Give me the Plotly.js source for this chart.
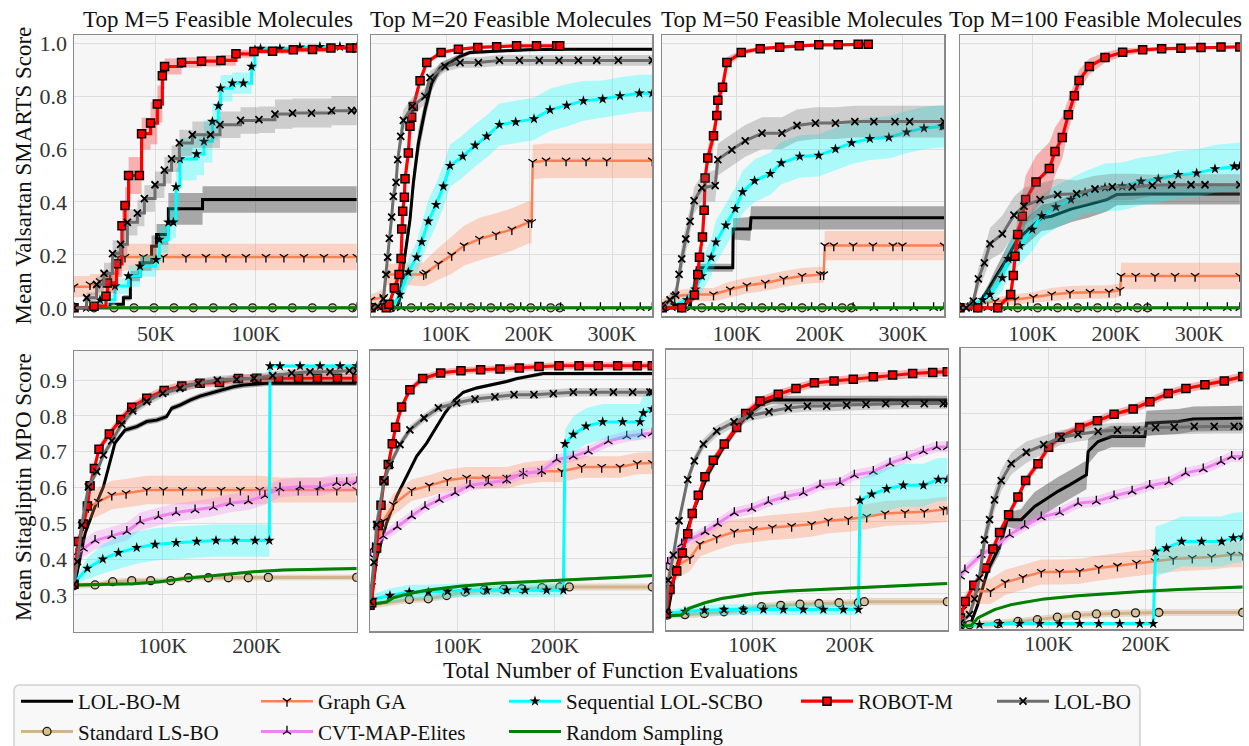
<!DOCTYPE html>
<html><head><meta charset="utf-8">
<script src="https://cdn.plot.ly/plotly-3.0.1.min.js"></script>
<style>html,body{margin:0;padding:0;background:#fff}</style>
</head><body><div id="chart" style="width:1249px;height:746px"></div>
<script>
// ---------------- DATA (x in thousands of evaluations, y = mean score, e = band half-width) ----------------
// Top row: Valsartan SMARTS, M=5
var T1_LBM_x = [9, 27, 33.7, 37.2, 42, 47.8, 50.3, 56.2, 73.3, 150.5];
var T1_LBM_y = [0, 0.013, 0.038, 0.12, 0.17, 0.233, 0.277, 0.374, 0.409, 0.409];
var T1_LBM_e = [0, 0.005, 0.01, 0.02, 0.03, 0.04, 0.04, 0.06, 0.05, 0.05];
var T1_SLS_x = [9, 19, 29, 39, 49, 59, 68.7, 78.7, 88.7, 98.3, 108.3, 118.2, 128.2, 138.3, 148.3];
var T1_SLS_y = [0, 0, 0, 0, 0, 0, 0, 0, 0, 0, 0, 0, 0, 0, 0];
var T1_SLS_e = 0;
var T1_GGA_x = [9, 17, 22, 27, 31, 34.5, 43.7, 53.7, 65, 75, 85, 95, 105, 114, 124, 134, 144, 150.5];
var T1_GGA_y = [0.08, 0.088, 0.1, 0.13, 0.19, 0.192, 0.192, 0.192, 0.192, 0.192, 0.192, 0.192, 0.192, 0.192, 0.192, 0.192, 0.192, 0.192];
var T1_GGA_e = [0.04, 0.04, 0.04, 0.045, 0.05, 0.05, 0.05, 0.05, 0.05, 0.05, 0.05, 0.05, 0.05, 0.05, 0.05, 0.05, 0.05, 0.05];
var T1_CVT_x = [9, 150.5];
var T1_CVT_y = [0, 0];
var T1_CVT_e = 0;
var T1_SEQ_x = [9, 15, 22, 29.5, 36.2, 42, 50, 51.7, 56.2, 58.7, 60, 62, 70.3, 74, 78.2, 81.2, 82.3, 88.2, 93.7, 97.8, 99.5, 102.3, 112, 122, 132, 142, 150.5];
var T1_SEQ_y = [0, 0, 0.03, 0.082, 0.12, 0.157, 0.182, 0.258, 0.323, 0.323, 0.457, 0.562, 0.581, 0.629, 0.704, 0.763, 0.83, 0.849, 0.849, 0.912, 0.975, 0.98, 0.98, 0.985, 0.987, 0.987, 0.987];
var T1_SEQ_e = [0, 0.005, 0.02, 0.03, 0.04, 0.04, 0.04, 0.05, 0.06, 0.06, 0.07, 0.08, 0.08, 0.08, 0.07, 0.06, 0.05, 0.04, 0.04, 0.03, 0.01, 0.008, 0.008, 0.006, 0.005, 0.005, 0.005];
var T1_RND_x = [9, 150.5];
var T1_RND_y = [0, 0];
var T1_RND_e = 0;
var T1_ROB_x = [9, 19, 25, 25.7, 30.3, 33, 34.5, 36.3, 41.7, 42.8, 47.3, 50.7, 53.2, 54.3, 62.8, 72.8, 82.5, 90, 99, 108.3, 118.7, 128.3, 137.5, 147.3, 150.5];
var T1_ROB_y = [0, 0.006, 0.044, 0.094, 0.166, 0.31, 0.387, 0.5, 0.5, 0.658, 0.698, 0.77, 0.877, 0.912, 0.927, 0.932, 0.935, 0.96, 0.969, 0.97, 0.975, 0.976, 0.982, 0.982, 0.982];
var T1_ROB_e = [0.003, 0.01, 0.03, 0.04, 0.05, 0.06, 0.07, 0.07, 0.07, 0.06, 0.08, 0.07, 0.05, 0.03, 0.02, 0.02, 0.02, 0.015, 0.01, 0.01, 0.01, 0.01, 0.008, 0.008, 0.008];
var T1_LBO_x = [9, 15.3, 20.3, 24, 28.3, 32.3, 35.7, 40.7, 44.2, 49.5, 54.2, 57.8, 61.7, 68.2, 77.3, 82, 92.3, 101.5, 109.5, 118.3, 127.8, 137.8, 147.8, 150.5];
var T1_LBO_y = [0, 0.038, 0.088, 0.13, 0.205, 0.24, 0.323, 0.358, 0.413, 0.465, 0.52, 0.563, 0.623, 0.654, 0.654, 0.692, 0.708, 0.711, 0.732, 0.736, 0.736, 0.745, 0.745, 0.745];
var T1_LBO_e = [0.005, 0.02, 0.03, 0.04, 0.05, 0.05, 0.05, 0.05, 0.05, 0.05, 0.05, 0.05, 0.05, 0.05, 0.05, 0.05, 0.05, 0.05, 0.055, 0.055, 0.055, 0.055, 0.055, 0.055];

// Top row, M=20
var T2_LBM_x = [9.6, 40.6, 44, 48.6, 56.6, 60.6, 66.7, 74.7, 82.7, 92.8, 106.8, 116.9, 129, 157.2, 197.4, 237.6, 348.5];
var T2_LBM_y = [0, 0, 0.03, 0.157, 0.333, 0.472, 0.623, 0.748, 0.849, 0.906, 0.931, 0.95, 0.965, 0.969, 0.975, 0.977, 0.977];
var T2_LBM_e = [0, 0, 0.01, 0.03, 0.04, 0.05, 0.05, 0.04, 0.03, 0.02, 0.015, 0.01, 0.008, 0.005, 0.005, 0.005, 0.005];
var T2_SLS_x = [9.6, 34, 58, 82, 106, 130, 154, 178, 202, 226, 237];
var T2_SLS_y = [0, 0, 0, 0, 0, 0, 0, 0, 0, 0, 0];
var T2_SLS_e = 0;
var T2_GGA_x = [9.6, 25, 28, 50, 73, 75.9, 90.8, 106.8, 121.7, 140.2, 160.3, 179.3, 199.4, 203.2, 204.4, 220.5, 244.6, 268.7, 293.6, 348.5];
var T2_GGA_y = [0.03, 0.04, 0.126, 0.126, 0.126, 0.132, 0.166, 0.199, 0.235, 0.26, 0.277, 0.296, 0.323, 0.323, 0.551, 0.556, 0.556, 0.556, 0.556, 0.556];
var T2_GGA_e = [0.02, 0.03, 0.04, 0.04, 0.045, 0.05, 0.06, 0.07, 0.075, 0.08, 0.08, 0.08, 0.08, 0.08, 0.065, 0.065, 0.065, 0.065, 0.065, 0.065];
var T2_CVT_x = [9.6, 22, 46, 70, 94, 118, 142, 166, 190, 214, 238, 262, 286, 310, 334, 348.5];
var T2_CVT_y = [0, 0, 0, 0, 0, 0, 0, 0, 0, 0, 0, 0, 0, 0, 0, 0];
var T2_CVT_e = 0;
var T2_SEQ_x = [9.6, 34, 44.6, 54.6, 64.6, 70.7, 78.7, 88, 96.8, 104.8, 120.1, 135, 149, 164.3, 183.9, 206, 225.3, 245.4, 265.5, 288.7, 309.6, 332.9, 348.5];
var T2_SEQ_y = [0, 0, 0.05, 0.135, 0.191, 0.249, 0.327, 0.39, 0.459, 0.537, 0.572, 0.614, 0.648, 0.692, 0.702, 0.714, 0.748, 0.765, 0.782, 0.789, 0.801, 0.811, 0.811];
var T2_SEQ_e = [0, 0.005, 0.03, 0.05, 0.06, 0.07, 0.08, 0.08, 0.08, 0.08, 0.08, 0.08, 0.08, 0.08, 0.08, 0.08, 0.08, 0.08, 0.075, 0.07, 0.07, 0.07, 0.07];
var T2_RND_x = [9.6, 348.5];
var T2_RND_y = [0, 0];
var T2_RND_e = 0;
var T2_ROB_x = [9.6, 28, 31.3, 37.7, 43.4, 45.8, 46.6, 47.8, 49.8, 50.6, 54.6, 56.6, 58.6, 60.6, 68.7, 76.7, 94, 114.9, 138.2, 161, 185, 209, 233.3, 237];
var T2_ROB_y = [0, 0, 0.013, 0.075, 0.126, 0.186, 0.298, 0.365, 0.418, 0.488, 0.585, 0.686, 0.72, 0.761, 0.858, 0.927, 0.965, 0.977, 0.984, 0.987, 0.99, 0.99, 0.99, 0.99];
var T2_ROB_e = [0.003, 0.003, 0.01, 0.02, 0.03, 0.03, 0.03, 0.03, 0.03, 0.03, 0.03, 0.03, 0.025, 0.02, 0.015, 0.01, 0.008, 0.005, 0.005, 0.005, 0.005, 0.005, 0.005, 0.005];
var T2_LBO_x = [9.6, 18, 24.5, 27.7, 29.7, 31.7, 34.5, 36.5, 39.8, 41.8, 45.4, 48.6, 59.4, 74.7, 80.7, 98.8, 116.9, 139, 164.3, 188.4, 212.4, 236.1, 259.4, 281.5, 307.6, 348.5];
var T2_LBO_y = [0, 0.005, 0.034, 0.126, 0.191, 0.262, 0.343, 0.421, 0.474, 0.56, 0.648, 0.708, 0.761, 0.799, 0.87, 0.912, 0.927, 0.927, 0.935, 0.935, 0.935, 0.935, 0.935, 0.935, 0.935, 0.935];
var T2_LBO_e = [0.003, 0.005, 0.02, 0.03, 0.04, 0.04, 0.04, 0.04, 0.04, 0.04, 0.04, 0.04, 0.035, 0.03, 0.025, 0.02, 0.02, 0.02, 0.02, 0.02, 0.02, 0.02, 0.02, 0.02, 0.02, 0.02];

// Top row, M=50
var T3_LBM_x = [10.1, 42, 47, 52, 95, 95.5, 116, 117, 349.5];
var T3_LBM_y = [0, 0, 0.05, 0.151, 0.151, 0.298, 0.298, 0.34, 0.34];
var T3_LBM_e = [0, 0, 0.01, 0.015, 0.015, 0.04, 0.045, 0.044, 0.044];
var T3_SLS_x = [10.1, 33.6, 57.7, 81.9, 106, 130.2, 154.4, 178.5, 202.7, 226.8, 238];
var T3_SLS_y = [0, 0, 0, 0, 0, 0, 0, 0, 0, 0, 0];
var T3_SLS_e = 0;
var T3_GGA_x = [10.1, 25, 47.6, 71.8, 91.9, 112, 134.2, 156.3, 178.5, 200.6, 204.6, 205.8, 216.7, 240.1, 263.9, 288, 299.3, 349.5];
var T3_GGA_y = [0.015, 0.045, 0.05, 0.05, 0.069, 0.084, 0.094, 0.109, 0.12, 0.126, 0.126, 0.235, 0.235, 0.235, 0.235, 0.235, 0.235, 0.235];
var T3_GGA_e = [0.015, 0.02, 0.025, 0.025, 0.03, 0.03, 0.03, 0.03, 0.03, 0.03, 0.03, 0.055, 0.055, 0.055, 0.055, 0.055, 0.055, 0.055];
var T3_CVT_x = [10.1, 21, 45, 70, 94, 118, 142, 166, 190, 215, 240, 265, 289, 313, 337, 349.5];
var T3_CVT_y = [0, 0, 0, 0, 0, 0, 0, 0, 0, 0, 0, 0, 0, 0, 0, 0];
var T3_CVT_e = 0;
var T3_SEQ_x = [10.1, 25, 40, 50, 57.7, 69, 74.6, 86.7, 98, 106.8, 121.3, 140.2, 153.5, 175.7, 198.6, 218.7, 238.1, 260.2, 283.1, 304.5, 325.4, 347.5, 349.5];
var T3_SEQ_y = [0, 0.01, 0.03, 0.07, 0.12, 0.191, 0.248, 0.312, 0.374, 0.438, 0.48, 0.507, 0.547, 0.572, 0.576, 0.6, 0.623, 0.639, 0.644, 0.664, 0.679, 0.686, 0.686];
var T3_SEQ_e = [0, 0.01, 0.02, 0.04, 0.06, 0.07, 0.08, 0.08, 0.08, 0.08, 0.08, 0.08, 0.08, 0.08, 0.08, 0.08, 0.08, 0.08, 0.08, 0.08, 0.08, 0.08, 0.08];
var T3_RND_x = [10.1, 349.5];
var T3_RND_y = [0, 0];
var T3_RND_e = 0;
var T3_ROB_x = [10.1, 33.5, 48.8, 52.9, 54.9, 58.5, 60.5, 61.7, 64.9, 71.8, 75.8, 77, 82.7, 87.9, 105.2, 128.1, 151.5, 175.2, 198.6, 222, 246.1, 258.2];
var T3_ROB_y = [0, 0, 0.048, 0.126, 0.191, 0.268, 0.369, 0.491, 0.566, 0.65, 0.727, 0.784, 0.834, 0.927, 0.965, 0.979, 0.985, 0.99, 0.994, 0.994, 0.996, 0.996];
var T3_ROB_e = [0.003, 0.005, 0.02, 0.03, 0.04, 0.04, 0.04, 0.04, 0.04, 0.04, 0.04, 0.035, 0.03, 0.02, 0.01, 0.008, 0.005, 0.005, 0.005, 0.005, 0.005, 0.005];
var T3_LBO_x = [10.1, 19.4, 26.3, 30.3, 33.5, 38.4, 43.6, 48.4, 57.7, 73.8, 77, 93.9, 110, 130.2, 154.3, 172.4, 194.6, 218.7, 242.1, 265, 290.4, 308.1, 349.5];
var T3_LBO_y = [0, 0.03, 0.048, 0.126, 0.185, 0.26, 0.327, 0.405, 0.453, 0.462, 0.56, 0.597, 0.631, 0.66, 0.66, 0.689, 0.698, 0.698, 0.704, 0.704, 0.704, 0.704, 0.704];
var T3_LBO_e = [0.003, 0.02, 0.03, 0.04, 0.05, 0.05, 0.05, 0.05, 0.05, 0.06, 0.06, 0.06, 0.06, 0.06, 0.06, 0.06, 0.06, 0.06, 0.06, 0.06, 0.06, 0.06, 0.06];

// Top row, M=100
var T4_LBM_x = [12.6, 30, 38, 46.7, 54.7, 66, 81.9, 99.6, 110.8, 122.8, 134.8, 146.8, 166.9, 189, 201, 235, 349];
var T4_LBM_y = [0, 0, 0.03, 0.069, 0.113, 0.17, 0.26, 0.308, 0.34, 0.346, 0.361, 0.374, 0.39, 0.409, 0.428, 0.43, 0.43];
var T4_LBM_e = [0, 0, 0.01, 0.02, 0.03, 0.04, 0.05, 0.05, 0.05, 0.05, 0.05, 0.05, 0.05, 0.045, 0.04, 0.04, 0.04];
var T4_SLS_x = [12.6, 34, 58, 82, 106, 130, 154, 178, 202, 226, 238];
var T4_SLS_y = [0, 0, 0, 0, 0, 0, 0, 0, 0, 0, 0];
var T4_SLS_e = 0;
var T4_GGA_x = [12.6, 30, 54.7, 78.7, 100.8, 122.8, 144.8, 168.9, 191.8, 205, 206.2, 223.8, 247, 271.1, 295.2, 349];
var T4_GGA_y = [0.005, 0.015, 0.025, 0.031, 0.04, 0.05, 0.057, 0.059, 0.06, 0.067, 0.12, 0.12, 0.12, 0.12, 0.12, 0.12];
var T4_GGA_e = [0.005, 0.01, 0.015, 0.02, 0.02, 0.025, 0.025, 0.025, 0.025, 0.025, 0.05, 0.05, 0.05, 0.05, 0.05, 0.05];
var T4_CVT_x = [12.6, 22, 46, 70, 94, 118, 142, 166, 190, 214, 238, 262, 286, 310, 334, 349];
var T4_CVT_y = [0, 0, 0, 0, 0, 0, 0, 0, 0, 0, 0, 0, 0, 0, 0, 0];
var T4_CVT_e = 0;
var T4_SEQ_x = [12.6, 25, 40, 48.7, 63.5, 70.7, 84.7, 99.6, 110.8, 127.9, 146, 162.9, 186.9, 207.7, 230.2, 251, 275, 297.1, 319.1, 342.4, 349];
var T4_SEQ_y = [0, 0.01, 0.03, 0.05, 0.113, 0.185, 0.235, 0.296, 0.348, 0.381, 0.409, 0.436, 0.455, 0.459, 0.478, 0.487, 0.503, 0.509, 0.525, 0.535, 0.535];
var T4_SEQ_e = [0, 0.01, 0.02, 0.03, 0.05, 0.06, 0.07, 0.08, 0.08, 0.08, 0.08, 0.08, 0.09, 0.09, 0.09, 0.09, 0.09, 0.09, 0.09, 0.09, 0.09];
var T4_RND_x = [12.6, 349];
var T4_RND_y = [0, 0];
var T4_RND_e = 0;
var T4_ROB_x = [12.6, 33.9, 57.9, 73.5, 76.7, 78.7, 81.9, 87.5, 91.5, 104, 120, 126.8, 135.6, 142.9, 150.1, 155.7, 168.1, 186.9, 208.1, 232.2, 255, 278.2, 302.3, 326.4, 349];
var T4_ROB_y = [0, 0, 0, 0.05, 0.122, 0.195, 0.277, 0.346, 0.409, 0.475, 0.526, 0.591, 0.644, 0.73, 0.801, 0.859, 0.912, 0.946, 0.966, 0.975, 0.979, 0.981, 0.984, 0.986, 0.986];
var T4_ROB_e = [0.003, 0.003, 0.005, 0.02, 0.04, 0.06, 0.07, 0.08, 0.09, 0.1, 0.1, 0.09, 0.08, 0.06, 0.05, 0.04, 0.03, 0.02, 0.015, 0.01, 0.008, 0.006, 0.005, 0.005, 0.005];
var T4_LBO_x = [12.6, 20, 28.7, 34.7, 41.9, 48.7, 63.5, 77.5, 89.5, 108.8, 130, 152.8, 174.9, 195.7, 219.7, 243.8, 267.1, 290.3, 307.1, 349];
var T4_LBO_y = [0, 0, 0.025, 0.109, 0.17, 0.242, 0.279, 0.35, 0.384, 0.409, 0.428, 0.431, 0.449, 0.457, 0.457, 0.463, 0.465, 0.465, 0.465, 0.465];
var T4_LBO_e = [0, 0.005, 0.02, 0.04, 0.05, 0.06, 0.07, 0.07, 0.07, 0.06, 0.06, 0.05, 0.05, 0.05, 0.05, 0.04, 0.04, 0.04, 0.04, 0.04];

// Bottom row: Sitagliptin MPO, M=5
var B1_LBM_x = [5.6, 6.7, 17.4, 28, 36.9, 44, 49.3, 59.9, 72.3, 83, 93.6, 104.2, 109.5, 118.4, 129.1, 139.7, 150.4, 161, 175.2, 185.8, 210.6, 306.4];
var B1_LBM_y = [0.33, 0.333, 0.472, 0.547, 0.602, 0.677, 0.725, 0.76, 0.77, 0.784, 0.788, 0.798, 0.821, 0.83, 0.844, 0.855, 0.863, 0.872, 0.881, 0.886, 0.891, 0.891];
var B1_LBM_e = 0.008;
var B1_SLS_x = [5.6, 28, 46.8, 67, 87.2, 108.5, 127.3, 148.6, 169.9, 191.1, 212.4, 306.4];
var B1_SLS_y = [0.326, 0.328, 0.337, 0.34, 0.34, 0.34, 0.348, 0.348, 0.348, 0.348, 0.349, 0.349];
var B1_SLS_e = 0.008;
var B1_GGA_x = [5.6, 7.8, 15.6, 20.9, 31.5, 45.8, 61, 83, 100.7, 121.2, 141.7, 162.2, 182.7, 203.2, 223.7, 244.2, 264.7, 285.2, 306.4];
var B1_GGA_y = [0.33, 0.379, 0.495, 0.545, 0.56, 0.579, 0.584, 0.593, 0.593, 0.593, 0.593, 0.593, 0.593, 0.593, 0.593, 0.593, 0.593, 0.593, 0.593];
var B1_GGA_e = [0.01, 0.02, 0.03, 0.035, 0.04, 0.04, 0.04, 0.04, 0.04, 0.04, 0.04, 0.04, 0.04, 0.04, 0.035, 0.035, 0.035, 0.035, 0.035];
var B1_CVT_x = [5.6, 7.8, 15.6, 28, 45.8, 61.8, 76, 95.4, 114.2, 134.4, 153.9, 171.6, 191.1, 208.8, 224.8, 246.1, 267.4, 285.1, 295.8, 306.4];
var B1_CVT_y = [0.33, 0.416, 0.43, 0.452, 0.465, 0.477, 0.505, 0.519, 0.53, 0.537, 0.545, 0.556, 0.562, 0.577, 0.598, 0.602, 0.602, 0.613, 0.613, 0.616];
var B1_CVT_e = 0.025;
var B1_SEQ_x = [5.6, 19.8, 36.2, 52.9, 72.3, 91.8, 114.2, 136.2, 156.7, 176.9, 198.2, 213.4, 214.2, 224.8, 246.1, 267.4, 288.7, 306.4];
var B1_SEQ_y = [0.333, 0.374, 0.4, 0.418, 0.432, 0.441, 0.446, 0.449, 0.452, 0.452, 0.452, 0.452, 0.939, 0.939, 0.939, 0.939, 0.939, 0.939];
var B1_SEQ_e = [0.005, 0.03, 0.04, 0.045, 0.045, 0.045, 0.045, 0.045, 0.045, 0.045, 0.045, 0.045, 0.005, 0.005, 0.005, 0.005, 0.005, 0.005];
var B1_RND_x = [5.6, 68.8, 97.2, 125.5, 161, 196.4, 228.4, 263.8, 306.4];
var B1_RND_y = [0.328, 0.331, 0.337, 0.347, 0.356, 0.365, 0.37, 0.372, 0.374];
var B1_RND_e = 0.004;
var B1_ROB_x = [5.6, 10.2, 15.6, 19.8, 22.7, 27.3, 32.2, 43.2, 55.3, 67, 83, 101.5, 120.3, 139.8, 160.4, 180.6, 200.1, 223.2, 244.5, 264.6, 285.9, 306.4];
var B1_ROB_y = [0.33, 0.449, 0.498, 0.548, 0.605, 0.653, 0.707, 0.749, 0.79, 0.824, 0.849, 0.871, 0.883, 0.891, 0.893, 0.904, 0.905, 0.905, 0.905, 0.905, 0.905, 0.905];
var B1_ROB_e = 0.012;
var B1_LBO_x = [5.6, 9.2, 13.8, 20.9, 29.8, 36.9, 45.8, 56.4, 68.1, 83, 100, 118.4, 137.9, 158.1, 178.7, 197.1, 217, 237.2, 256.7, 278, 298.6, 306.4];
var B1_LBO_y = [0.33, 0.393, 0.495, 0.602, 0.644, 0.691, 0.73, 0.777, 0.814, 0.84, 0.863, 0.877, 0.891, 0.9, 0.902, 0.905, 0.912, 0.919, 0.923, 0.923, 0.926, 0.926];
var B1_LBO_e = 0.012;

// Bottom row, M=20
var B2_LBM_x = [9.9, 10.9, 16.7, 27, 37.3, 47.6, 57.8, 68.1, 78.4, 86.9, 97.2, 105.8, 119.5, 136.7, 150.3, 160.6, 174.3, 188, 205.2, 300];
var B2_LBM_y = [0.27, 0.277, 0.402, 0.5, 0.574, 0.63, 0.686, 0.723, 0.77, 0.807, 0.844, 0.865, 0.877, 0.886, 0.895, 0.903, 0.911, 0.917, 0.917, 0.917];
var B2_LBM_e = 0.005;
var B2_SLS_x = [9.9, 50.3, 69.8, 88.7, 107.6, 127.2, 147.2, 165.8, 186.6, 205.1, 214.7, 300];
var B2_SLS_y = [0.27, 0.286, 0.288, 0.297, 0.307, 0.312, 0.314, 0.316, 0.319, 0.321, 0.321, 0.321];
var B2_SLS_e = 0.01;
var B2_GGA_x = [9.9, 11.6, 16.7, 23.6, 33.9, 52.7, 70.9, 89.4, 109.2, 129.1, 150.3, 167.5, 186.3, 206.9, 227.4, 248, 266.8, 284.6, 300];
var B2_GGA_y = [0.28, 0.323, 0.426, 0.505, 0.551, 0.591, 0.604, 0.619, 0.626, 0.626, 0.626, 0.638, 0.644, 0.644, 0.656, 0.656, 0.656, 0.666, 0.667];
var B2_GGA_e = 0.03;
var B2_CVT_x = [9.9, 12.6, 23.6, 37.9, 52.7, 66.4, 81.1, 97.3, 112.7, 131.5, 150.3, 167.5, 186.3, 201.7, 218.8, 234.3, 254.8, 273.7, 289.1, 300];
var B2_CVT_y = [0.41, 0.43, 0.463, 0.489, 0.519, 0.545, 0.565, 0.584, 0.605, 0.612, 0.619, 0.638, 0.644, 0.677, 0.686, 0.7, 0.728, 0.742, 0.747, 0.751];
var B2_CVT_e = 0.015;
var B2_SEQ_x = [9.9, 12.6, 30.4, 50.3, 69.8, 89.4, 109.2, 129.9, 150.3, 169.2, 191.4, 208.6, 210.3, 218.8, 231.9, 249, 269.5, 287.4, 290.8, 300];
var B2_SEQ_y = [0.28, 0.286, 0.297, 0.307, 0.307, 0.309, 0.312, 0.312, 0.312, 0.312, 0.312, 0.312, 0.721, 0.747, 0.77, 0.782, 0.782, 0.782, 0.807, 0.818];
var B2_SEQ_e = [0.01, 0.015, 0.02, 0.02, 0.02, 0.02, 0.02, 0.02, 0.02, 0.02, 0.02, 0.02, 0.04, 0.05, 0.05, 0.05, 0.05, 0.05, 0.05, 0.05];
var B2_RND_x = [9.9, 27, 33.9, 50.9, 68.1, 102.4, 136.7, 170.9, 205.1, 239.4, 273.7, 300];
var B2_RND_y = [0.272, 0.279, 0.291, 0.303, 0.312, 0.323, 0.331, 0.335, 0.34, 0.345, 0.349, 0.353];
var B2_RND_e = 0.004;
var B2_ROB_x = [9.9, 11.6, 16.7, 18.4, 21.2, 24.3, 28.7, 32.8, 36.2, 42.4, 50.9, 64, 82.5, 103.4, 123.6, 143.5, 163.4, 183.6, 204.1, 224.7, 244.5, 264.4, 284.6, 300];
var B2_ROB_y = [0.27, 0.277, 0.43, 0.493, 0.549, 0.618, 0.663, 0.721, 0.767, 0.824, 0.872, 0.903, 0.919, 0.925, 0.928, 0.93, 0.933, 0.937, 0.939, 0.939, 0.939, 0.939, 0.939, 0.939];
var B2_ROB_e = 0.01;
var B2_LBO_x = [9.9, 14, 16.7, 24.3, 30.4, 40.7, 50.9, 65.4, 80.1, 98.9, 117.8, 138.3, 157.9, 178.4, 198.3, 218.8, 239.4, 260, 279.8, 297.6, 300];
var B2_LBO_y = [0.28, 0.39, 0.495, 0.616, 0.663, 0.719, 0.76, 0.793, 0.821, 0.835, 0.846, 0.852, 0.858, 0.858, 0.861, 0.865, 0.865, 0.865, 0.865, 0.865, 0.865];
var B2_LBO_e = 0.012;

// Bottom row, M=50
var B3_LBM_x = [10.9, 12.6, 20.1, 30.4, 40.7, 54.4, 68.1, 81.8, 95.5, 109.2, 119.5, 136.6, 300];
var B3_LBM_y = [0.24, 0.244, 0.356, 0.458, 0.542, 0.635, 0.7, 0.756, 0.802, 0.83, 0.84, 0.84, 0.84];
var B3_LBM_e = 0.012;
var B3_SLS_x = [10.9, 12.6, 30.4, 50.3, 70.5, 90.4, 109.2, 128.8, 148.6, 168.1, 188.7, 208.6, 214.7, 300];
var B3_SLS_y = [0.24, 0.24, 0.241, 0.244, 0.249, 0.253, 0.263, 0.267, 0.27, 0.272, 0.274, 0.274, 0.277, 0.277];
var B3_SLS_e = 0.01;
var B3_GGA_x = [10.9, 12.6, 20.1, 35.5, 45.8, 63, 81.1, 100.7, 120.2, 140, 160.6, 177.7, 198.3, 217.2, 236, 256.5, 276.4, 296, 300];
var B3_GGA_y = [0.3, 0.337, 0.374, 0.398, 0.438, 0.456, 0.472, 0.479, 0.484, 0.488, 0.493, 0.503, 0.507, 0.514, 0.523, 0.526, 0.528, 0.534, 0.535];
var B3_GGA_e = 0.035;
var B3_CVT_x = [10.9, 12.6, 27, 51, 64, 81.1, 99, 116.1, 133.2, 152, 169.2, 189.7, 204.5, 224, 241.1, 258.3, 275.4, 289.1, 300];
var B3_CVT_y = [0.37, 0.386, 0.438, 0.472, 0.495, 0.525, 0.537, 0.556, 0.57, 0.581, 0.602, 0.609, 0.63, 0.64, 0.663, 0.681, 0.697, 0.709, 0.709];
var B3_CVT_e = 0.015;
var B3_SEQ_x = [10.9, 12.6, 30.4, 50.3, 70.5, 90.4, 111, 131.5, 152, 172.6, 193.2, 208.6, 210.3, 222.3, 237.7, 254.8, 275.4, 290.8, 300];
var B3_SEQ_y = [0.244, 0.244, 0.25, 0.253, 0.255, 0.255, 0.255, 0.255, 0.255, 0.255, 0.255, 0.255, 0.56, 0.577, 0.592, 0.602, 0.602, 0.618, 0.618];
var B3_SEQ_e = [0.01, 0.01, 0.012, 0.015, 0.015, 0.015, 0.015, 0.015, 0.015, 0.015, 0.015, 0.015, 0.06, 0.06, 0.06, 0.06, 0.06, 0.06, 0.06];
var B3_RND_x = [10.9, 27, 33.9, 50.9, 68.1, 85.2, 102.4, 136.7, 170.9, 205.1, 239.4, 273.7, 300];
var B3_RND_y = [0.237, 0.24, 0.258, 0.274, 0.286, 0.292, 0.3, 0.307, 0.311, 0.317, 0.321, 0.325, 0.328];
var B3_RND_e = 0.004;
var B3_ROB_x = [10.9, 15, 21.9, 27.7, 33.2, 37.9, 44.1, 50.9, 59.5, 70.8, 83.5, 92.8, 107.5, 126.3, 144.5, 163.4, 183.6, 203.4, 224, 243.8, 264.4, 285, 300];
var B3_ROB_y = [0.244, 0.311, 0.363, 0.413, 0.467, 0.523, 0.574, 0.626, 0.672, 0.717, 0.763, 0.802, 0.837, 0.856, 0.872, 0.888, 0.893, 0.898, 0.905, 0.91, 0.914, 0.917, 0.919];
var B3_ROB_e = 0.012;
var B3_LBO_x = [10.9, 13.3, 18.4, 24.3, 33.2, 40, 49.3, 63, 80.8, 97.2, 116.8, 136.6, 156.2, 176, 196.6, 216.4, 236.7, 256.5, 276.4, 296, 300];
var B3_LBO_y = [0.25, 0.337, 0.407, 0.503, 0.618, 0.67, 0.717, 0.753, 0.779, 0.796, 0.807, 0.818, 0.823, 0.823, 0.826, 0.828, 0.83, 0.83, 0.83, 0.83, 0.83];
var B3_LBO_e = 0.015;

// Bottom row, M=100
var B4_LBM_x = [9.3, 20, 27.1, 37.5, 49.5, 57.4, 71.8, 77, 85.6, 95.9, 109.6, 121.6, 130.3, 138.9, 140.6, 150.9, 164.6, 199, 200.7, 233.4, 248.9, 299.7];
var B4_LBM_y = [0.215, 0.215, 0.266, 0.363, 0.428, 0.503, 0.503, 0.518, 0.54, 0.558, 0.582, 0.6, 0.614, 0.628, 0.693, 0.721, 0.735, 0.735, 0.772, 0.777, 0.784, 0.786];
var B4_LBM_e = [0.005, 0.005, 0.01, 0.015, 0.02, 0.02, 0.03, 0.035, 0.04, 0.04, 0.04, 0.04, 0.04, 0.04, 0.035, 0.03, 0.03, 0.03, 0.035, 0.035, 0.035, 0.035];
var B4_SLS_x = [9.3, 18.6, 47.8, 68.4, 88.4, 109, 128.6, 149.2, 168.8, 189.4, 213.4, 299.7];
var B4_SLS_y = [0.207, 0.21, 0.213, 0.219, 0.224, 0.231, 0.236, 0.24, 0.241, 0.243, 0.244, 0.244];
var B4_SLS_e = 0.01;
var B4_GGA_x = [9.3, 11.7, 25.4, 40.2, 55.3, 73.6, 92.4, 111.3, 132, 151.6, 170.8, 190.4, 209.3, 228.2, 247.8, 267.7, 287.6, 299.7];
var B4_GGA_y = [0.22, 0.252, 0.303, 0.303, 0.328, 0.342, 0.357, 0.357, 0.359, 0.368, 0.374, 0.382, 0.387, 0.393, 0.396, 0.399, 0.405, 0.405];
var B4_GGA_e = 0.035;
var B4_CVT_x = [9.3, 13.8, 30.6, 46.1, 59.8, 75.3, 92.4, 111.3, 130.2, 149.1, 167.3, 185.9, 204, 223.7, 240.9, 259.1, 277.3, 288.3, 299.7];
var B4_CVT_y = [0.345, 0.362, 0.405, 0.43, 0.461, 0.486, 0.51, 0.523, 0.549, 0.554, 0.569, 0.582, 0.598, 0.608, 0.633, 0.644, 0.665, 0.679, 0.679];
var B4_CVT_e = 0.015;
var B4_SEQ_x = [9.3, 28.9, 49.5, 70.1, 90.7, 111.3, 131.9, 151.6, 173.2, 193.8, 207.6, 210, 221.3, 236.8, 257.4, 278, 290, 299.7];
var B4_SEQ_y = [0.207, 0.21, 0.213, 0.213, 0.213, 0.213, 0.213, 0.213, 0.213, 0.213, 0.213, 0.414, 0.424, 0.442, 0.442, 0.442, 0.452, 0.454];
var B4_SEQ_e = [0.003, 0.005, 0.005, 0.005, 0.005, 0.005, 0.005, 0.005, 0.005, 0.005, 0.005, 0.07, 0.07, 0.07, 0.07, 0.07, 0.07, 0.07];
var B4_RND_x = [9.3, 20.3, 27.1, 44.3, 61.5, 78.7, 95.9, 130.2, 164.6, 199, 233.4, 267.7, 299.7];
var B4_RND_y = [0.207, 0.207, 0.229, 0.252, 0.266, 0.275, 0.282, 0.291, 0.298, 0.303, 0.308, 0.312, 0.315];
var B4_RND_e = 0.004;
var B4_ROB_x = [9.3, 14.1, 23, 35.1, 42.6, 49.5, 58.8, 68.4, 76.3, 89, 100, 111.4, 131.9, 150.2, 167.4, 187, 204.1, 223.1, 241.3, 260.8, 280.8, 299.7];
var B4_ROB_y = [0.229, 0.275, 0.32, 0.368, 0.421, 0.467, 0.517, 0.566, 0.612, 0.659, 0.705, 0.733, 0.76, 0.779, 0.797, 0.812, 0.832, 0.855, 0.869, 0.879, 0.89, 0.902];
var B4_ROB_e = 0.012;
var B4_LBO_x = [9.3, 18.6, 23.7, 28.8, 34, 39.2, 44.3, 51.2, 61.5, 77, 94.9, 113.1, 130.3, 150.9, 170.8, 190.4, 210, 229.2, 249.8, 270.4, 291, 299.7];
var B4_LBO_y = [0.215, 0.238, 0.282, 0.34, 0.447, 0.503, 0.558, 0.612, 0.659, 0.691, 0.712, 0.733, 0.741, 0.749, 0.753, 0.753, 0.76, 0.761, 0.763, 0.763, 0.763, 0.763];
var B4_LBO_e = [0.005, 0.01, 0.02, 0.03, 0.03, 0.03, 0.03, 0.03, 0.03, 0.03, 0.025, 0.02, 0.02, 0.02, 0.02, 0.02, 0.02, 0.02, 0.02, 0.02, 0.02, 0.02];

// Labels
var PANEL_KEYS = ['T1', 'T2', 'T3', 'T4', 'B1', 'B2', 'B3', 'B4'];
var PANEL_TITLES = ['Top M=5 Feasible Molecules', 'Top M=20 Feasible Molecules', 'Top M=50 Feasible Molecules', 'Top M=100 Feasible Molecules'];
var METHOD_KEYS = ['LBM', 'SLS', 'GGA', 'CVT', 'SEQ', 'RND', 'ROB', 'LBO'];
var METHOD_NAMES = ['LOL-BO-M', 'Standard LS-BO', 'Graph GA', 'CVT-MAP-Elites', 'Sequential LOL-SCBO', 'Random Sampling', 'ROBOT-M', 'LOL-BO'];
var X_TICKS_T1 = [50, 100];
var X_TICKTEXT_T1 = ['50K', '100K'];
var X_TICKS_TOP = [100, 200, 300];
var X_TICKTEXT_TOP = ['100K', '200K', '300K'];
var X_TICKS_BOTTOM = [100, 200];
var X_TICKTEXT_BOTTOM = ['100K', '200K'];
var Y_TICKS_TOP = [0, 0.2, 0.4, 0.6, 0.8, 1.0];
var Y_TICKS_BOTTOM = [0.3, 0.4, 0.5, 0.6, 0.7, 0.8, 0.9];
var Y_TITLE_TOP = 'Mean Valsartan SMARTS Score';
var Y_TITLE_BOTTOM = 'Mean Sitagliptin MPO Score';
var X_TITLE = 'Total Number of Function Evaluations';

// ---------------- STYLE / LAYOUT ----------------
var W = 1249, H = 746;
var FONT = 'Liberation Serif, Times New Roman, serif';
function fx(px) { return px / W; }
function fy(py) { return 1 - py / H; }

var BOX = {
  T1: [74, 356.7, 35, 316], T2: [371, 652.3, 35, 316], T3: [662.3, 944, 35, 316], T4: [960, 1240, 35, 316],
  B1: [74, 356.7, 351, 631.5], B2: [370, 652.3, 350.7, 631], B3: [666, 947.5, 349.5, 630], B4: [960.5, 1242.7, 348.3, 629]
};
var XRANGE = {
  T1: [9, 150.4], T2: [9.6, 348.5], T3: [10.1, 349.5], T4: [12.6, 349.2],
  B1: [5.6, 306.4], B2: [9.9, 300], B3: [10.9, 300.2], B4: [9.3, 299.7]
};

var STY = {
  LBM: {color: '#000000', band: 'rgba(0,0,0,0.32)', width: 3},
  SLS: {color: '#d2b48c', band: 'rgba(210,180,140,0.45)', width: 3,
        marker: {symbol: 'circle', size: 8, color: '#d9bf98', line: {color: '#1a1a1a', width: 1.3}}},
  GGA: {color: '#ff7f50', band: 'rgba(255,127,80,0.3)', width: 2.5,
        marker: {symbol: 'y-down', size: 7, color: '#000', line: {color: '#000', width: 1.3}}},
  CVT: {color: '#ee82ee', band: 'rgba(238,130,238,0.3)', width: 3,
        marker: {symbol: 'y-up', size: 7, color: '#000', line: {color: '#000', width: 1.3}}},
  SEQ: {color: '#00ffff', band: 'rgba(0,255,255,0.3)', width: 3,
        marker: {symbol: 'star', size: 8, color: '#000', line: {color: '#000', width: 0}}},
  RND: {color: '#008000', band: 'rgba(0,128,0,0.3)', width: 3},
  ROB: {color: '#ff0000', band: 'rgba(255,0,0,0.28)', width: 3.2,
        marker: {symbol: 'square', size: 8, color: '#ff0000', line: {color: '#000', width: 1.5}}},
  LBO: {color: '#6e6e6e', band: 'rgba(110,110,110,0.3)', width: 3,
        marker: {symbol: 'x-thin', size: 7, color: '#000', line: {color: '#000', width: 1.8}}}
};
var LEGEND_OF = {LBM: 'legend', SLS: 'legend', GGA: 'legend2', CVT: 'legend2', SEQ: 'legend3', RND: 'legend3', ROB: 'legend4', LBO: 'legend5'};

var traces = [];
PANEL_KEYS.forEach(function (p, i) {
  var xa = i === 0 ? 'x' : 'x' + (i + 1);
  var ya = i === 0 ? 'y' : 'y' + (i + 1);
  var shape = p === 'T1' ? 'hv' : 'linear';
  METHOD_KEYS.forEach(function (m, mi) {
    var xs = window[p + '_' + m + '_x'], ys = window[p + '_' + m + '_y'], es = window[p + '_' + m + '_e'];
    if (!xs) return;
    var eAt = function (k) { return Array.isArray(es) ? es[k] : es; };
    var hasBand = Array.isArray(es) ? es.some(function (v) { return v > 0; }) : es > 0;
    var s = STY[m];
    if (hasBand) {
      traces.push({x: xs, y: ys.map(function (v, k) { return v + eAt(k); }), xaxis: xa, yaxis: ya,
        mode: 'lines', line: {width: 0, shape: shape}, showlegend: false, hoverinfo: 'skip'});
      traces.push({x: xs, y: ys.map(function (v, k) { return v - eAt(k); }), xaxis: xa, yaxis: ya,
        mode: 'lines', line: {width: 0, shape: shape}, fill: 'tonexty', fillcolor: s.band, showlegend: false, hoverinfo: 'skip'});
    }
    var tr = {x: xs, y: ys, xaxis: xa, yaxis: ya, name: METHOD_NAMES[mi],
      mode: s.marker ? 'lines+markers' : 'lines', line: {color: s.color, width: s.width, shape: shape},
      showlegend: p === 'B1', legend: LEGEND_OF[m]};
    if (s.marker) tr.marker = s.marker;
    traces.push(tr);
  });
});

var layout = {
  width: W, height: H,
  margin: {l: 0, r: 0, t: 0, b: 0, autoexpand: false},
  paper_bgcolor: '#ffffff', plot_bgcolor: '#f6f6f6',
  font: {family: FONT, size: 22, color: '#222'},
  showlegend: true,
  annotations: [], shapes: []
};

PANEL_KEYS.forEach(function (p, i) {
  var b = BOX[p];
  var top = p.charAt(0) === 'T';
  var xk = i === 0 ? 'xaxis' : 'xaxis' + (i + 1);
  var yk = i === 0 ? 'yaxis' : 'yaxis' + (i + 1);
  var ya = i === 0 ? 'y' : 'y' + (i + 1);
  var xa = i === 0 ? 'x' : 'x' + (i + 1);
  layout[xk] = {
    domain: [fx(b[0]), fx(b[1])], range: XRANGE[p], anchor: ya,
    tickmode: 'array',
    tickvals: p === 'T1' ? X_TICKS_T1 : (top ? X_TICKS_TOP : X_TICKS_BOTTOM),
    ticktext: p === 'T1' ? X_TICKTEXT_T1 : (top ? X_TICKTEXT_TOP : X_TICKTEXT_BOTTOM),
    showgrid: true, gridcolor: '#dddddd', gridwidth: 1, zeroline: false,
    showline: true, linecolor: '#8a8a8a', linewidth: 1.5, mirror: true, ticks: '',
    tickfont: {family: FONT, size: 22, color: '#333'}, ticklabelstandoff: top ? -3 : -6, fixedrange: true
  };
  layout[yk] = {
    domain: [fy(b[3]), fy(b[2])], range: top ? [-0.031, 1.031] : [0.198, 0.981], anchor: xa,
    tickmode: 'array', tickvals: top ? Y_TICKS_TOP : Y_TICKS_BOTTOM, tickformat: '.1f',
    showticklabels: (p === 'T1' || p === 'B1'),
    showgrid: true, gridcolor: '#dddddd', gridwidth: 1, zeroline: false,
    showline: true, linecolor: '#8a8a8a', linewidth: 1.5, mirror: true, ticks: '',
    tickfont: {family: FONT, size: 22, color: '#333'}, ticklabelstandoff: 1, fixedrange: true
  };
});

// subplot titles
var TITLE_CX = [217.5, 511, 802, 1095];
PANEL_TITLES.forEach(function (t, k) {
  layout.annotations.push({text: t, xref: 'paper', yref: 'paper', x: fx(TITLE_CX[k]), y: fy(19.5),
    xanchor: 'center', yanchor: 'middle', showarrow: false, font: {family: FONT, size: 23, color: '#111'}});
});
layout.annotations.push({text: Y_TITLE_TOP, xref: 'paper', yref: 'paper', x: fx(23), y: fy(175.5), textangle: -90,
  xanchor: 'center', yanchor: 'middle', showarrow: false, font: {family: FONT, size: 23, color: '#111'}});
layout.annotations.push({text: Y_TITLE_BOTTOM, xref: 'paper', yref: 'paper', x: fx(23), y: fy(487), textangle: -90,
  xanchor: 'center', yanchor: 'middle', showarrow: false, font: {family: FONT, size: 23, color: '#111'}});
layout.annotations.push({text: X_TITLE, xref: 'paper', yref: 'paper', x: fx(620), y: fy(670),
  xanchor: 'center', yanchor: 'middle', showarrow: false, font: {family: FONT, size: 23, color: '#111'}});

// legend box
(function () {
  var x0 = 14, x1 = 1140, y0 = 685, y1 = 752, r = 6;
  var P = function (x, y) { return fx(x) + ',' + fy(y); };
  var d = 'M' + P(x0 + r, y0) + ' L' + P(x1 - r, y0) + ' Q' + P(x1, y0) + ' ' + P(x1, y0 + r) +
    ' L' + P(x1, y1) + ' L' + P(x0, y1) + ' L' + P(x0, y0 + r) + ' Q' + P(x0, y0) + ' ' + P(x0 + r, y0) + ' Z';
  layout.shapes.push({type: 'path', xref: 'paper', yref: 'paper', path: d,
    fillcolor: 'rgba(248,248,248,0.95)', line: {color: '#cfcfcf', width: 1.5}, layer: 'above'});
})();

var LEG_IDS = ['legend', 'legend2', 'legend3', 'legend4', 'legend5'];
var LEG_X = [20, 260, 508, 800, 996];
LEG_IDS.forEach(function (id, k) {
  layout[id] = {x: fx(LEG_X[k] - 4), y: fy(681), xanchor: 'left', yanchor: 'top',
    bgcolor: 'rgba(0,0,0,0)', borderwidth: 0, orientation: 'v', traceorder: 'normal', tracegroupgap: 0, itemwidth: 52,
    font: {family: FONT, size: 21, color: '#111'}};
});

Plotly.newPlot('chart', traces, layout, {displayModeBar: false, staticPlot: true});
</script></body></html>
